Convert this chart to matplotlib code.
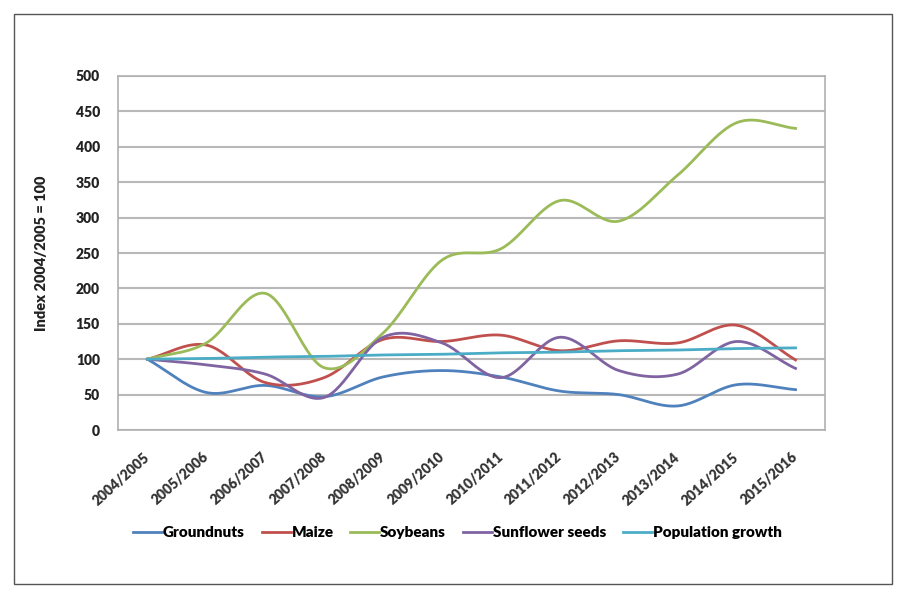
import numpy as np
import matplotlib
matplotlib.use("Agg")
import matplotlib.pyplot as plt
from matplotlib.patches import Rectangle

seasons = ["2004/2005", "2005/2006", "2006/2007", "2007/2008", "2008/2009",
           "2009/2010", "2010/2011", "2011/2012", "2012/2013", "2013/2014",
           "2014/2015", "2015/2016"]

groundnuts = [100, 53, 63, 47, 75, 84, 75, 55, 50, 34, 64, 57]
maize = [100, 120, 67, 74, 128, 125, 134, 112, 126, 123, 148, 99]
soybeans = [100, 123, 193, 88, 137, 240, 256, 324, 295, 360, 434, 426]
sunflower = [100, 92, 79, 46, 131, 123, 74, 131, 84, 79, 125, 87]
population = [100, 101, 103, 104, 106, 107, 109, 110, 112, 113, 115, 116]

series = [
    ("Groundnuts", groundnuts, "#4F81BD"),
    ("Maize", maize, "#C0504D"),
    ("Soybeans", soybeans, "#9BBB59"),
    ("Sunflower seeds", sunflower, "#8064A2"),
    ("Population growth", population, "#4BACC6"),
]

plt.rcParams["font.family"] = ["Lato", "DejaVu Sans"]


def smooth(x, y, n=30):
    # Catmull-Rom spline through the points, like a "smoothed line" chart
    x = np.asarray(x, float)
    y = np.asarray(y, float)
    px = np.concatenate([[2 * x[0] - x[1]], x, [2 * x[-1] - x[-2]]])
    py = np.concatenate([[2 * y[0] - y[1]], y, [2 * y[-1] - y[-2]]])
    xs, ys = [], []
    t = np.linspace(0, 1, n, endpoint=False)
    for i in range(1, len(px) - 2):
        for p, out in ((px, xs), (py, ys)):
            p0, p1, p2, p3 = p[i - 1], p[i], p[i + 1], p[i + 2]
            out.append(0.5 * (2 * p1 + (-p0 + p2) * t
                              + (2 * p0 - 5 * p1 + 4 * p2 - p3) * t ** 2
                              + (-p0 + 3 * p1 - 3 * p2 + p3) * t ** 3))
    xs.append([x[-1]])
    ys.append([y[-1]])
    return np.concatenate(xs), np.concatenate(ys)


fig = plt.figure(figsize=(9.06, 5.97), dpi=100)
ax = fig.add_axes([0.1302, 0.2797, 0.7804, 0.593])

# frame around the whole chart
fig.patches.append(Rectangle((14 / 906, 1 - 584 / 597), 878 / 906, 570 / 597,
                             transform=fig.transFigure, fill=False,
                             edgecolor="#555555", linewidth=1.0))

x = np.arange(len(seasons))
for name, vals, color in series:
    sx, sy = smooth(x, vals)
    ax.plot(sx, sy, color=color, linewidth=2.0, label=name)

ax.set_xlim(-0.5, len(seasons) - 0.5)
ax.set_ylim(0, 500)
ax.set_yticks(range(0, 501, 50))
ax.set_xticks(x)
ax.set_xticklabels(seasons, rotation=42, ha="right", va="center",
                   rotation_mode="anchor",
                   fontsize=10, fontweight="heavy", color="#333333")
for lbl in ax.get_yticklabels():
    lbl.set_fontsize(10)
    lbl.set_fontweight("heavy")
    lbl.set_color("#222222")
ax.tick_params(axis="x", length=0, pad=18)
ax.tick_params(axis="y", length=0, pad=13)
ax.grid(axis="y", color="#b8b8b8", linewidth=1.5)
ax.set_axisbelow(True)
for sp in ax.spines.values():
    sp.set_color("#b0b0b0")
    sp.set_linewidth(1.2)

ax.set_ylabel("Index 2004/2005 = 100", fontsize=10.5, fontweight="heavy",
              color="#222222", labelpad=20)

ax.legend(loc="center", bbox_to_anchor=(0.48, -0.29), ncol=5,
          frameon=False, handlelength=1.9, handletextpad=0.05,
          columnspacing=1.1, prop={"weight": "heavy", "size": 11})

fig.savefig("out.png", dpi=100)
